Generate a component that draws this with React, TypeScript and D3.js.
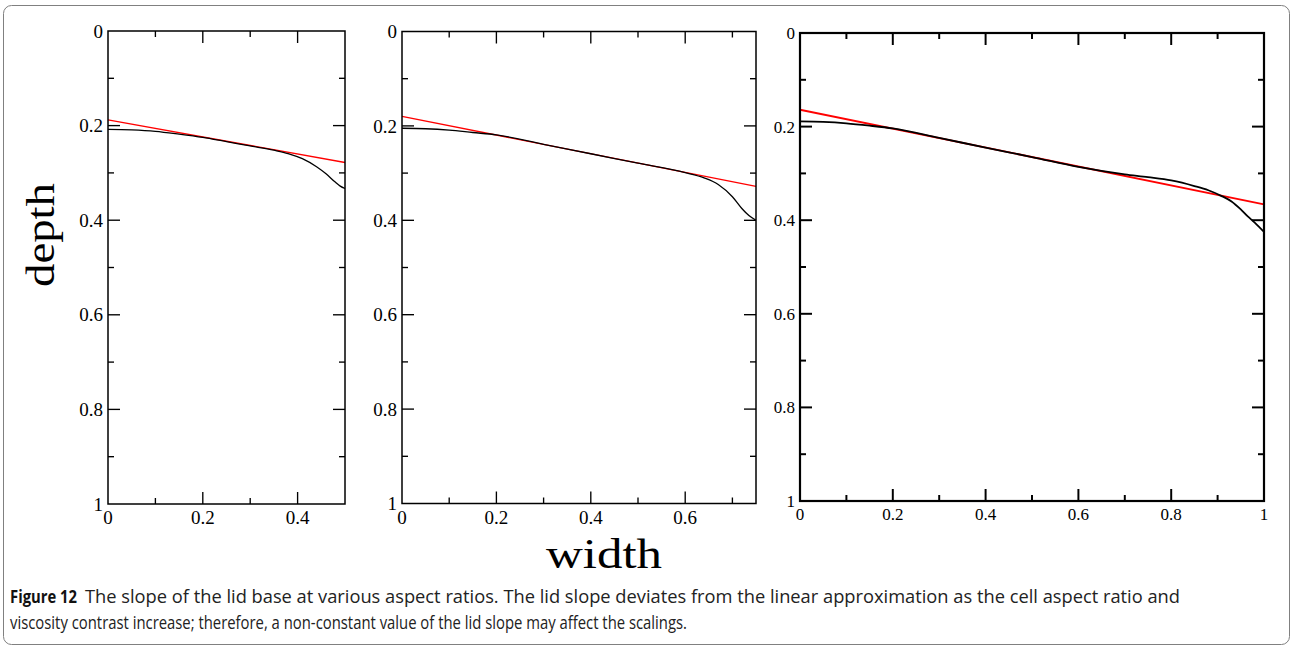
import React from "react";
import * as d3 from "d3";

// ---- data ----
const p1BlackX = [0, 0.05, 0.1, 0.15, 0.2, 0.25, 0.3, 0.35, 0.38, 0.41, 0.44, 0.46, 0.48, 0.49, 0.5];
const p1BlackY = [0.208, 0.209, 0.212, 0.218, 0.225, 0.234, 0.243, 0.252, 0.259, 0.27, 0.287, 0.302, 0.32, 0.328, 0.333];
const p1RedX = [0, 0.5];
const p1RedY = [0.188, 0.278];

const p2BlackX = [0, 0.05, 0.1, 0.15, 0.2, 0.3, 0.4, 0.5, 0.6, 0.64, 0.67, 0.7, 0.72, 0.735, 0.75];
const p2BlackY = [0.205, 0.206, 0.209, 0.214, 0.219, 0.239, 0.259, 0.279, 0.299, 0.31, 0.324, 0.35, 0.375, 0.39, 0.4];
const p2RedX = [0, 0.75];
const p2RedY = [0.18, 0.328];

const p3BlackX = [0, 0.05, 0.1, 0.15, 0.2, 0.3, 0.4, 0.5, 0.6, 0.7, 0.75, 0.8, 0.85, 0.88, 0.91, 0.93, 0.95, 0.965, 0.98, 1.0];
const p3BlackY = [0.189, 0.19, 0.193, 0.198, 0.204, 0.224, 0.245, 0.265, 0.286, 0.302, 0.308, 0.315, 0.327, 0.336, 0.349, 0.36, 0.377, 0.392, 0.405, 0.425];
const p3RedX = [0, 1];
const p3RedY = [0.164, 0.366];

const yTickLabels = [0, 0.2, 0.4, 0.6, 0.8, 1];
const xMaxes = [0.5, 0.75, 1];

const captionBold = "Figure 12";
const captionLine1 = "The slope of the lid base at various aspect ratios. The lid slope deviates from the linear approximation as the cell aspect ratio and";
const captionLine2 = "viscosity contrast increase; therefore, a non-constant value of the lid slope may affect the scalings.";

type PanelProps = {
  x0: number; x1: number; y0: number; y1: number; xMax: number;
  bx: number[]; by: number[]; rx: number[]; ry: number[];
  frameW: number; lineW: number; fontSize: number;
};

const fmt = (v: number) => d3.format("~g")(+v.toFixed(2));

function Panel(p: PanelProps) {
  const x = d3.scaleLinear().domain([0, p.xMax]).range([p.x0, p.x1]);
  const y = d3.scaleLinear().domain([0, 1]).range([p.y0, p.y1]);
  const line = d3.line<[number, number]>().x(d => x(d[0])).y(d => y(d[1])).curve(d3.curveMonotoneX);
  const black = p.bx.map((v, i) => [v, p.by[i]] as [number, number]);
  const red = p.rx.map((v, i) => [v, p.ry[i]] as [number, number]);

  const xMinor = d3.range(0, p.xMax + 1e-9, 0.1).map(v => +v.toFixed(2));
  const yMinor = d3.range(0, 1 + 1e-9, 0.1).map(v => +v.toFixed(2));
  const isMajor = (v: number) => Math.abs(v / 0.2 - Math.round(v / 0.2)) < 1e-6;
  const xMajor = xMinor.filter(isMajor);
  const major = 12, minor = 6;
  const tw = p.frameW * 0.9;

  return (
    <g>
      {xMinor.filter(v => v > 0 && v < p.xMax - 1e-9).map(v => {
        const len = isMajor(v) ? major : minor;
        return (
          <g key={"xt" + v}>
            <line x1={x(v)} x2={x(v)} y1={p.y1} y2={p.y1 - len} stroke="#000" strokeWidth={tw} />
            <line x1={x(v)} x2={x(v)} y1={p.y0} y2={p.y0 + len} stroke="#000" strokeWidth={tw} />
          </g>
        );
      })}
      {yMinor.filter(v => v > 0 && v < 1).map(v => {
        const len = isMajor(v) ? major : minor;
        return (
          <g key={"yt" + v}>
            <line x1={p.x0} x2={p.x0 + len} y1={y(v)} y2={y(v)} stroke="#000" strokeWidth={tw} />
            <line x1={p.x1} x2={p.x1 - len} y1={y(v)} y2={y(v)} stroke="#000" strokeWidth={tw} />
          </g>
        );
      })}
      <path d={line(red) || ""} fill="none" stroke="#ff0000" strokeWidth={p.lineW} />
      <path d={line(black) || ""} fill="none" stroke="#000" strokeWidth={p.lineW} />
      <rect x={p.x0} y={p.y0} width={p.x1 - p.x0} height={p.y1 - p.y0} fill="none" stroke="#000" strokeWidth={p.frameW} />
      {yTickLabels.map(v => (
        <text key={"yl" + v} x={p.x0 - 5} y={y(v)} dy="0.35em" textAnchor="end"
          fontFamily="'Liberation Serif', 'Times New Roman', serif" fontSize={p.fontSize}>{fmt(v)}</text>
      ))}
      {xMajor.map(v => (
        <text key={"xl" + v} x={x(v)} y={p.y1 + 6} dy="0.75em" textAnchor="middle"
          fontFamily="'Liberation Serif', 'Times New Roman', serif" fontSize={p.fontSize}>{fmt(v)}</text>
      ))}
    </g>
  );
}

export default function App() {
  const panels = [
    { x0: 108, x1: 345, y0: 31, y1: 504, bx: p1BlackX, by: p1BlackY, rx: p1RedX, ry: p1RedY, frameW: 1.5, lineW: 1.3, fontSize: 19 },
    { x0: 402, x1: 756, y0: 31.5, y1: 503.5, bx: p2BlackX, by: p2BlackY, rx: p2RedX, ry: p2RedY, frameW: 1.5, lineW: 1.3, fontSize: 19 },
    { x0: 800, x1: 1264, y0: 33, y1: 501, bx: p3BlackX, by: p3BlackY, rx: p3RedX, ry: p3RedY, frameW: 2.2, lineW: 1.8, fontSize: 17 },
  ];
  const serif = "'Liberation Serif', 'Times New Roman', serif";
  const sans = "'Liberation Sans Narrow', 'Open Sans', 'Noto Sans', sans-serif";
  return (
    <svg width={1294} height={649} style={{ position: "absolute", left: 0, top: 0, background: "#fff" }}>
      <rect x={0} y={0} width={1294} height={649} fill="#fff" />
      <rect x={3.5} y={5.5} width={1286} height={639} rx={8} ry={8} fill="none" stroke="#808080" strokeWidth={1} />
      {panels.map((p, i) => <Panel key={i} {...p} xMax={xMaxes[i]} />)}
      <text transform="translate(54,235) rotate(-90)" textAnchor="middle" fontFamily={serif}
        fontSize={40} textLength={104} lengthAdjust="spacingAndGlyphs">depth</text>
      <text x={604} y={568} textAnchor="middle" fontFamily={serif}
        fontSize={43} textLength={116} lengthAdjust="spacingAndGlyphs">width</text>
      <text x={10} y={603} fontFamily={sans} fontWeight="bold" fontSize={18}
        textLength={67} lengthAdjust="spacingAndGlyphs" fill="#111">{captionBold}</text>
      <text x={85} y={603} fontFamily={sans} fontSize={18}
        textLength={1095} lengthAdjust="spacingAndGlyphs" fill="#222">{captionLine1}</text>
      <text x={10} y={629} fontFamily={sans} fontSize={18}
        textLength={677} lengthAdjust="spacingAndGlyphs" fill="#222">{captionLine2}</text>
    </svg>
  );
}
